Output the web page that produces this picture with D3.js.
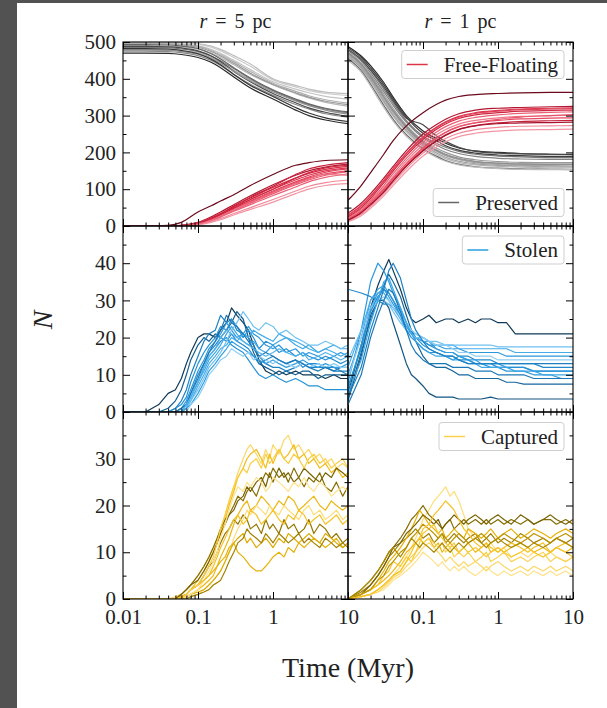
<!DOCTYPE html>
<html><head><meta charset="utf-8">
<script src="https://cdn.jsdelivr.net/npm/d3@7"></script>
<style>body{margin:0;background:#fff;} svg{display:block;}</style>
</head><body>
<svg id="c" width="607" height="708"></svg>
<script>
// ---------------- DATA ----------------
const titles = ["r = 5 pc", "r = 1 pc"];
const legendLabels = ["Free-Floating", "Preserved", "Stolen", "Captured"];
const xTickLabelsLeft = [0.01, 0.1, 1, 10];
const xTickLabelsRight = [0.1, 1, 10];
const yTickLabels = [[0,100,200,300,400,500],[0,10,20,30,40],[0,10,20,30]];
const yMajor = [[0,100,200,300,400,500],[0,10,20,30,40,50],[0,10,20,30,40]];
const yMinor = [[50,150,250,350,450],[5,15,25,35,45],[5,15,25,35]];
const yMax = [500, 50, 40];

// top row time grids
const tTopL = [0.01,0.02,0.04,0.06,0.1,0.15,0.2,0.3,0.5,1,2,3,5,10];
const tTopR = [0.01,0.015,0.02,0.03,0.04,0.06,0.1,0.15,0.2,0.3,0.5,1,2,5,10];

// r = 5 pc, Preserved
const presL = [
 [470,470,469,466,458,445,430,405,375,345,315,300,288,278],
 [475,475,474,471,463,450,436,412,385,355,330,318,305,296],
 [480,480,479,476,470,458,445,423,397,367,343,330,318,306],
 [485,485,484,481,474,462,449,428,400,368,342,330,318,308],
 [490,490,489,487,481,470,458,438,412,383,360,348,336,326],
 [495,495,494,492,486,474,462,442,415,385,362,350,339,330],
 [498,498,497,495,490,480,469,450,425,392,372,362,352,345],
 [500,500,500,498,494,486,476,458,434,397,378,368,360,355],
 [493,493,492,489,482,468,454,430,402,370,345,332,320,310],
 [488,488,487,484,476,462,447,420,392,360,335,321,309,298],
 [478,478,477,474,467,455,442,420,394,364,340,327,315,304],
 [496,496,495,493,488,477,465,446,420,388,366,354,343,334],
 [482,482,481,477,468,453,438,412,382,352,322,307,294,284],
 [500,500,500,499,496,489,480,463,440,400,382,372,364,360]
];
const presLShade = [1.0,0.5,0.3,0.6,0.2,0.4,0.1,0.05,0.7,0.85,0.45,0.25,0.95,0.15];

// r = 5 pc, Free-Floating
const ffL = [
 [0,0,2,10,38,55,68,85,110,140,165,172,178,180],
 [0,0,0,2,10,25,38,58,82,112,138,150,160,168],
 [0,0,0,2,8,22,34,52,76,105,130,143,154,162],
 [0,0,0,1,7,20,32,50,72,100,125,138,150,158],
 [0,0,0,1,6,18,30,47,68,95,120,133,146,155],
 [0,0,0,1,6,17,28,45,66,92,117,130,142,150],
 [0,0,0,1,5,15,26,42,62,88,112,125,138,148],
 [0,0,0,1,5,14,24,40,58,83,106,120,132,142],
 [0,0,0,0,4,12,20,34,50,72,95,108,118,125],
 [0,0,0,0,3,10,17,30,45,65,88,100,110,115],
 [0,0,0,1,7,21,33,54,78,108,140,155,165,172],
 [0,0,0,1,6,19,31,49,72,100,130,145,158,165],
 [0,0,0,0,5,16,27,44,64,90,115,128,140,138]
];
const ffLShade = [1.0,0.75,0.55,0.5,0.45,0.4,0.35,0.3,0.15,0.1,0.65,0.6,0.25];

// r = 1 pc, Preserved
const presR = [
 [488,462,436,390,350,300,258,238,225,212,204,200,197,195,194],
 [480,452,422,372,334,286,244,225,214,203,195,190,188,186,186],
 [472,442,410,358,320,274,232,212,200,188,180,175,173,172,172],
 [465,434,400,345,308,265,224,203,191,180,172,167,165,164,163],
 [470,440,406,352,314,270,228,207,195,184,176,171,169,168,168],
 [460,428,392,336,298,256,216,195,183,173,166,162,160,158,158],
 [455,422,385,328,290,248,210,190,178,168,161,157,155,154,153],
 [478,452,424,378,340,293,275,245,230,214,203,198,196,195,195],
 [468,438,404,350,312,268,226,205,193,182,174,170,168,167,167],
 [450,418,380,322,285,244,207,187,176,166,160,156,154,153,153],
 [476,448,416,365,328,282,240,220,208,197,189,184,182,181,181],
 [462,430,396,340,302,260,220,199,187,176,169,165,163,161,161],
 [484,458,430,384,345,296,252,232,218,206,198,193,191,189,189]
];
const presRShade = [1.0,0.6,0.4,0.3,0.5,0.2,0.7,0.85,0.45,0.15,0.55,0.35,0.9];

// r = 1 pc, Free-Floating
const ffR = [
 [70,110,145,195,232,272,308,330,342,352,357,360,362,363,363],
 [35,62,88,130,162,205,250,275,290,305,315,320,322,324,325],
 [30,56,82,124,156,198,242,268,283,298,308,314,318,320,321],
 [22,46,70,110,142,184,228,255,270,285,295,302,306,309,310],
 [25,50,75,117,149,191,235,262,277,292,302,308,312,314,315],
 [20,42,66,104,135,177,220,247,262,277,287,294,298,300,301],
 [18,40,63,100,130,170,213,240,255,270,280,287,291,293,294],
 [16,36,58,94,124,164,206,232,248,263,273,280,284,286,287],
 [14,32,53,88,117,156,198,223,238,252,262,268,271,272,273],
 [12,28,48,82,110,148,190,214,229,243,252,258,261,262,263],
 [28,54,80,121,154,196,240,266,281,296,306,312,316,318,319],
 [18,38,60,96,127,168,210,238,254,270,281,290,296,300,303],
 [16,36,58,92,122,162,204,230,246,262,272,278,280,281,282]
];
const ffRShade = [1.0,0.75,0.5,0.3,0.6,0.2,0.4,0.65,0.15,0.1,0.45,0.35,0.8];

// middle row: Stolen
const tMidL = [0.01,0.02,0.03,0.04,0.05,0.06,0.07,0.08,0.1,0.12,0.14,0.17,0.2,0.24,0.28,0.33,0.4,0.47,0.55,0.65,0.8,1,1.2,1.5,2,2.5,3,4,5,6.5,8,10];
const stolenL = [
 [0,0,2,5,6,9,13,16,20,21,21,20,22,24,28,26,24,22,18,14,11,10,11,10,11,10,10,10,9,10,9,9],
 [0,0,0,1,3,6,10,14,18,20,19,21,20,22,24,27,25,20,16,13,12,11,10,11,10,11,11,9,10,10,10,10],
 [0,0,0,0,1,3,6,10,15,19,21,22,26,24,25,22,21,20,18,15,13,12,12,11,12,13,12,12,12,11,12,12],
 [0,0,0,0,1,2,4,8,13,16,18,20,23,22,25,23,20,22,20,17,19,18,16,17,15,16,15,14,15,14,13,14],
 [0,0,0,0,0,1,3,6,11,14,17,19,21,24,22,20,21,23,21,20,18,17,18,16,17,15,16,15,14,15,16,15],
 [0,0,0,0,0,1,2,5,10,13,16,18,20,19,21,19,18,17,15,13,14,15,14,13,14,12,13,13,12,12,11,11],
 [0,0,0,0,0,0,2,4,8,12,15,17,19,20,18,17,16,14,12,10,9,10,9,8,9,8,7,7,6,6,6,6],
 [0,0,0,0,0,0,1,4,8,11,14,16,18,21,23,21,19,18,19,17,16,18,19,20,18,17,18,16,17,18,17,17],
 [0,0,0,0,0,0,1,3,7,10,13,15,17,18,20,19,21,20,22,21,20,19,21,20,19,18,17,16,17,16,15,16],
 [0,0,0,0,0,0,1,3,6,9,12,14,16,19,22,24,27,25,23,22,24,23,21,22,20,19,18,18,19,18,17,18],
 [0,0,0,0,0,0,1,2,5,8,11,13,15,17,19,18,17,16,15,14,13,14,13,12,13,14,13,12,13,12,12,13],
 [0,0,0,0,0,0,0,2,4,7,10,12,14,15,17,16,15,16,14,15,14,13,14,13,12,13,12,13,12,13,12,12],
 [0,0,0,0,0,1,2,5,9,13,16,19,22,26,24,23,21,19,17,15,16,15,14,13,14,13,12,11,12,11,11,10],
 [0,0,0,0,0,0,2,4,8,12,15,17,20,22,21,20,19,18,17,16,15,16,17,16,15,16,14,15,16,15,14,15]
];
const stolenLShade = [1.0,0.8,0.6,0.5,0.45,0.55,0.5,0.35,0.3,0.15,0.4,0.05,0.65,0.25];

const tMidR = [0.01,0.015,0.02,0.025,0.03,0.035,0.04,0.05,0.06,0.07,0.08,0.1,0.12,0.15,0.2,0.25,0.3,0.4,0.5,0.6,0.8,1,1.3,1.7,2.2,3,4,5,7,10];
const stolenR = [
 [5,18,28,34,38,41,38,33,28,25,24,25,26,24,25,25,24,25,24,25,25,24,24,21,21,21,21,21,21,21],
 [3,15,26,30,30,28,24,18,13,10,9,7,5,4,4,4,3.5,3.5,3.5,3.5,4,3.5,3.5,3.5,3.5,3.5,3.5,3.5,3.5,3.5],
 [4,16,25,30,34,37,35,31,26,22,19,15,13,12,12,11,10,10,9,9,9,9,8,8,7.5,7.5,7.5,7.5,7.5,7.5],
 [8,22,35,40,38,35,32,28,24,21,20,18,17,16,15,14,15,14,13,13,12,12,11,11,11,10,10,10,9,9],
 [33,32,31,30,29,29,28,26,24,22,20,19,18,17,16,16,15,15,14,14,14,13,13,13,13,13,12,12,12,12],
 [10,20,30,33,34,32,30,27,24,22,21,20,19,17,16,16,15,14,14,13,13,13,12,12,12,11,11,11,11,11],
 [6,18,28,32,33,31,29,26,23,21,20,19,18,18,17,17,17,16,16,16,16,16,15,15,15,15,15,15,15,15],
 [12,22,30,32,32,30,28,25,22,21,20,19,19,18,18,18,17,17,17,17,17,17,17,16,16,16,16,16,16,16],
 [14,22,28,31,30,29,27,24,22,21,20,20,19,19,18,18,18,18,18,18,18,17.5,17.5,17.5,17.5,17.5,17.5,17.5,17.5,17.5],
 [9,20,27,30,31,30,28,26,24,22,21,20,19,18,18,17,16,16,15,15,15,14,14,14,14,14,14,14,14,14],
 [7,17,27,31,33,32,30,26,22,20,19,17,16,16,15,15,14,14,13,13,13,12,12,12,12,11,11,11,11,11],
 [5,14,24,30,35,36,33,28,24,21,19,17,16,15,15,14,14,13,13,12,12,12,12,11,11,11,10,10,10,10],
 [4,12,22,28,33,38,40,36,30,25,22,19,17,16,15,15,14,13,13,13,13,13,13,13,13,13,13,13,13,13],
 [2,10,20,26,30,33,32,27,22,18,16,14,13,13,13,12,12,12,11,11,11,10,10,10,10,9,9,9,9,9]
];
const stolenRShade = [1.0,0.85,0.75,0.45,0.55,0.4,0.45,0.3,0.15,0.05,0.5,0.35,0.6,0.65];

// bottom row: Captured
const tBotL = [0.01,0.04,0.05,0.06,0.07,0.08,0.1,0.12,0.14,0.16,0.18,0.2,0.23,0.26,0.3,0.34,0.4,0.45,0.5,0.6,0.7,0.8,0.9,1,1.2,1.4,1.6,1.9,2.2,2.6,3,3.5,4.2,5,6,7,8.5,10];
const capL = [
 [0,0,0.5,1,2,3,5,7,9,11,13,15,18,21,24,27,30,32,33,31,29,32,30,33,31,34,35,32,33,31,32,30,31,29,30,28,29,28],
 [0,0,0,0.5,1,2,4,6,8,10,12,14,17,20,23,26,28,30,31,32,30,28,31,29,32,30,31,33,30,31,29,30,28,29,27,28,26,27],
 [0,0,0,1,2,3,5,7,9,11,13,15,17,18,20,22,21,23,24,22,25,27,26,28,26,27,25,28,26,24,26,25,27,24,23,25,22,24],
 [0,0,0,0.5,1,2,3,5,7,8,10,12,14,15,17,16,18,17,15,16,14,17,15,16,14,17,15,16,14,15,17,14,16,15,13,14,12,13],
 [0,0,0,0,0.5,1,2,3,4,5,7,9,11,13,16,18,20,21,19,20,22,21,20,19,21,20,22,21,19,20,21,22,20,19,21,20,19,20],
 [0,0,0,0,0,0.5,1,2,3,4,5,6,8,10,13,15,17,19,18,20,19,18,20,19,18,20,19,18,17,19,20,18,19,17,18,19,17,18],
 [0,0,0,0.5,1,2,3,4,5,6,7,8,9,11,12,10,9,8,7,6,6,7,8,9,10,9,11,10,12,11,12,13,12,11,12,13,11,12],
 [0,0,0,0,0.5,1,1.5,2,3,4,5,6,8,10,12,13,14,12,13,11,12,13,12,11,13,12,14,13,12,13,14,13,12,14,13,12,11,12],
 [0,0,0,1,2,3,4,6,8,10,12,14,16,18,19,21,22,24,23,25,26,24,27,25,28,26,27,25,26,28,27,26,25,27,26,28,27,26],
 [0,0,0,0,0.5,1,2,4,6,8,10,13,16,19,22,24,23,25,24,26,25,23,24,26,25,24,23,25,24,26,24,23,25,24,22,23,24,23],
 [0,0,0,0.5,1,2,3,4,5,7,9,11,13,15,17,18,16,17,19,18,16,17,18,19,17,16,18,17,19,18,16,17,18,16,17,18,16,17],
 [0,0,0,0,0,0.5,1,1.5,2,3,3.5,4,6,8,10,12,13,15,14,13,12,14,13,12,14,13,12,13,14,12,13,12,11,13,12,11,12,11],
 [0,0,0,0,1,2,3,5,7,9,12,15,18,21,24,26,28,27,29,30,28,31,29,30,32,30,29,31,30,28,30,31,29,30,28,29,30,28]
];
const capLShade = [0.15,0.4,0.9,0.85,0.45,0.1,0.5,0.55,0.95,0.05,0.35,0.8,0.25];

const tBotR = [0.01,0.015,0.02,0.025,0.03,0.035,0.04,0.05,0.06,0.07,0.08,0.09,0.1,0.12,0.14,0.16,0.18,0.2,0.23,0.26,0.3,0.35,0.4,0.5,0.6,0.7,0.8,1,1.2,1.5,2,2.5,3,4,5,6,8,10];
const capR = [
 [0,0.5,1,2,3,4,5,7,9,11,13,15,17,19,21,22,23,24,22,23,21,18,15,13,12,11,12,10,11,9,10,9,10,9,10,9,8,9],
 [0,2,4,6,8,10,11,13,15,17,18,19,20,18,17,16,15,16,17,15,16,17,16,17,16,17,16,17,16,17,16,17,16,17,17,16,17,16],
 [0,1.5,3,5,7,9,10,12,13,14,15,14,13,14,12,13,14,12,13,14,13,12,13,14,12,13,14,12,13,12,14,13,12,13,12,13,12,13],
 [0,1,2,3,4,5,6,8,10,11,12,13,12,13,11,12,10,11,12,11,10,11,12,10,11,12,10,11,10,11,12,11,10,11,10,11,10,11],
 [0,0.5,1,1.5,2,3,4,5,6,7,8,9,10,9,8,7,8,7,6,7,6,7,6,5,6,7,6,5,6,5,6,5,6,5,6,5,6,5],
 [0,1,2,4,6,8,9,11,13,15,17,19,18,16,15,14,15,13,14,15,14,13,15,14,13,14,15,13,14,15,13,14,15,14,13,14,15,14],
 [0,0.5,1,2,3,4,5,6,8,9,10,11,12,13,12,11,12,10,11,9,10,9,10,8,9,10,8,9,10,8,9,8,9,10,8,9,8,9],
 [0,1,3,5,7,9,11,12,14,15,16,17,18,17,16,17,15,16,17,18,17,16,17,18,17,16,17,18,17,16,18,17,16,17,18,17,16,17],
 [0,1,2,3,5,6,8,7,9,8,10,12,14,15,16,14,13,12,11,12,10,11,10,11,10,9,10,11,10,9,10,11,10,9,10,11,10,9],
 [0,1,2,4,5,7,8,10,11,13,14,15,16,15,14,13,14,13,12,13,14,13,12,13,14,13,12,13,14,13,12,13,14,13,12,13,14,13],
 [0,0.5,1,1.5,2.5,3.5,4.5,5.5,7,8,9,10,11,12,11,10,9,8,9,8,7,8,7,8,7,6,7,8,7,6,7,6,7,6,7,6,7,6],
 [0,0.5,1,2,3,4,5,6,8,10,12,13,15,16,18,19,20,21,20,19,17,15,14,12,11,12,11,10,11,12,11,10,11,12,10,11,12,11],
 [0,2,4,6,8,10,11,9,11,13,12,11,12,11,10,11,12,11,10,11,12,11,12,13,12,11,12,13,12,11,12,11,12,11,12,13,12,11]
];
const capRShade = [0.1,0.9,0.8,0.45,0.05,0.5,0.2,0.95,0.3,0.7,0.15,0.35,0.75];

// ---------------- STYLE ----------------
const SERIF = "'Liberation Serif', 'DejaVu Serif', serif";
const grayPal = d3.interpolateRgbBasis(["#d2d2d2","#a3a3a3","#707070","#2a2a2a"]);
const redPal = d3.interpolateRgbBasis(["#f5b3bd","#ef6a7e","#e0304a","#b8142f","#6a0a1c"]);
const bluePal = d3.interpolateRgbBasis(["#9fd4f6","#4cb2ee","#1f93dc","#17679f","#0e3a58"]);
const yelPal = d3.interpolateRgbBasis(["#ffe7a0","#fbcd3c","#eeb300","#b08e00","#6b5700"]);
const legendColors = ["#dc3447","#666666","#2a9ee0","#fcd04e"];

const svg = d3.select("#c");
svg.append("rect").attr("width",607).attr("height",708).attr("fill","#fff");
svg.append("rect").attr("x",0).attr("y",0).attr("width",17).attr("height",708).attr("fill","#525252");
svg.append("rect").attr("x",0).attr("y",0).attr("width",607).attr("height",3).attr("fill","#525252");

const cols = [123, 348], W = 225;
const rows = [[42,226],[226,412],[412,599]];

const panels = [
 {r:0,c:0,groups:[{t:tTopL,lines:presL,shade:presLShade,pal:grayPal,curve:d3.curveMonotoneX},{t:tTopL,lines:ffL,shade:ffLShade,pal:redPal,curve:d3.curveMonotoneX}]},
 {r:0,c:1,groups:[{t:tTopR,lines:presR,shade:presRShade,pal:grayPal,curve:d3.curveMonotoneX},{t:tTopR,lines:ffR,shade:ffRShade,pal:redPal,curve:d3.curveMonotoneX}]},
 {r:1,c:0,groups:[{t:tMidL,lines:stolenL,shade:stolenLShade,pal:bluePal,curve:d3.curveLinear}]},
 {r:1,c:1,groups:[{t:tMidR,lines:stolenR,shade:stolenRShade,pal:bluePal,curve:d3.curveLinear}]},
 {r:2,c:0,groups:[{t:tBotL,lines:capL,shade:capLShade,pal:yelPal,curve:d3.curveLinear}]},
 {r:2,c:1,groups:[{t:tBotR,lines:capR,shade:capRShade,pal:yelPal,curve:d3.curveLinear}]}
];

const xMajor = [0.01,0.1,1,10];
const xMinor = [];
[0.01,0.1,1].forEach(d => { for (let k=2;k<=9;k++) xMinor.push(+(k*d).toPrecision(3)); });

function styleAxis(g) {
  g.select(".domain").remove();
  g.selectAll("line").attr("stroke","#000").attr("stroke-width",1);
  g.attr("font-family", SERIF).attr("font-size", 21);
  g.selectAll("text").attr("fill","#222");
}

panels.forEach(p => {
  const x0 = cols[p.c], x1 = x0 + W, yt = rows[p.r][0], yb = rows[p.r][1];
  const x = d3.scaleLog().domain([0.01,10]).range([x0,x1]);
  const y = d3.scaleLinear().domain([0,yMax[p.r]]).range([yb,yt]);
  const id = "clip"+p.r+p.c;
  svg.append("clipPath").attr("id",id).append("rect").attr("x",x0).attr("y",yt).attr("width",W).attr("height",yb-yt);
  const g = svg.append("g").attr("clip-path","url(#"+id+")");
  p.groups.forEach(gr => {
    const line = d3.line().x((d,i)=>x(gr.t[i])).y(d=>y(d)).curve(gr.curve);
    gr.lines.forEach((vals,k) => {
      g.append("path").attr("d", line(vals)).attr("fill","none")
        .attr("stroke", gr.pal(gr.shade[k])).attr("stroke-width",1.2)
        .attr("stroke-linejoin","round");
    });
  });
  const mk = (axisFn, scale, vals, len, tx, ty) => {
    svg.append("g").attr("transform","translate("+tx+","+ty+")")
      .call(axisFn(scale).tickValues(vals).tickSizeInner(-len).tickSizeOuter(0).tickFormat(""))
      .call(styleAxis);
  };
  mk(d3.axisBottom, x, xMajor, 7, 0, yb);
  mk(d3.axisBottom, x, xMinor, 3.5, 0, yb);
  mk(d3.axisTop, x, xMajor, 7, 0, yt);
  mk(d3.axisTop, x, xMinor, 3.5, 0, yt);
  mk(d3.axisLeft, y, yMajor[p.r], 7, x0, 0);
  mk(d3.axisLeft, y, yMinor[p.r], 3.5, x0, 0);
  mk(d3.axisRight, y, yMajor[p.r], 7, x1, 0);
  mk(d3.axisRight, y, yMinor[p.r], 3.5, x1, 0);
  svg.append("rect").attr("x",x0).attr("y",yt).attr("width",W).attr("height",yb-yt)
    .attr("fill","none").attr("stroke","#000").attr("stroke-width",1.1);
  if (p.c === 0) {
    svg.append("g").attr("transform","translate("+x0+",0)")
      .call(d3.axisLeft(y).tickValues(yTickLabels[p.r]).tickSize(0).tickPadding(7).tickFormat(d=>String(d)))
      .call(styleAxis);
  }
  if (p.r === 2) {
    const lbl = p.c === 0 ? xTickLabelsLeft : xTickLabelsRight;
    svg.append("g").attr("transform","translate(0,"+yb+")")
      .call(d3.axisBottom(x).tickValues(lbl).tickSize(0).tickPadding(10).tickFormat(d=>String(d)))
      .call(styleAxis);
  }
});

titles.forEach((t,i) => {
  const tx = svg.append("text").attr("x", cols[i]+W/2).attr("y", 28)
    .attr("text-anchor","middle").attr("font-family",SERIF).attr("font-size",20).attr("fill","#222")
    .attr("word-spacing","3px");
  tx.append("tspan").attr("font-style","italic").text(t.slice(0,1));
  tx.append("tspan").text(t.slice(1));
});

svg.append("text").attr("x", 348).attr("y", 677).attr("text-anchor","middle")
  .attr("font-family",SERIF).attr("font-size",28).attr("fill","#222").text("Time (Myr)");
svg.append("text").attr("transform","translate(52,320) rotate(-90)").attr("text-anchor","middle")
  .attr("font-family",SERIF).attr("font-size",28).attr("font-style","italic").attr("fill","#222").text("N");

function legend(xRight, yTop, label, color) {
  const g = svg.append("g");
  const rect = g.append("rect");
  const txt = g.append("text").attr("font-family",SERIF).attr("font-size",21).attr("fill","#222").text(label);
  const tw = txt.node().getComputedTextLength();
  const w = 42 + tw + 6, h = 28, bx = xRight - w;
  rect.attr("x",bx).attr("y",yTop).attr("width",w).attr("height",h).attr("rx",3)
    .attr("fill","#fff").attr("fill-opacity",0.8).attr("stroke","#cfcfcf").attr("stroke-width",1);
  g.append("line").attr("x1",bx+5).attr("x2",bx+26).attr("y1",yTop+h/2).attr("y2",yTop+h/2)
    .attr("stroke",color).attr("stroke-width",1.5);
  txt.attr("x",bx+42).attr("y",yTop+h/2+7);
}
legend(564, 50.5, legendLabels[0], legendColors[0]);
legend(564, 188.5, legendLabels[1], legendColors[1]);
legend(564, 236, legendLabels[2], legendColors[2]);
legend(564, 422.5, legendLabels[3], legendColors[3]);
</script>
</body></html>
